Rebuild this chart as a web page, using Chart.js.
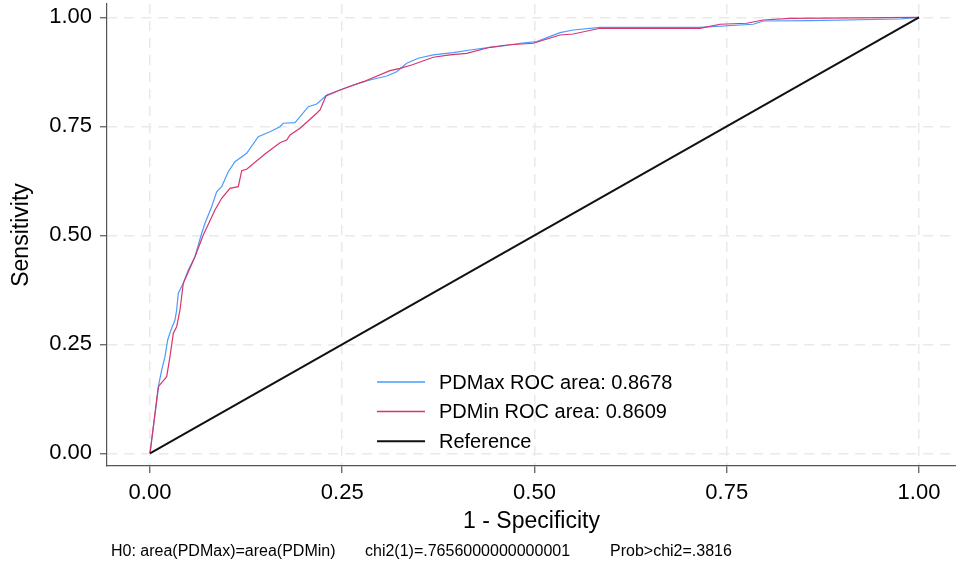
<!DOCTYPE html>
<html>
<head>
<meta charset="utf-8">
<script src="https://cdn.jsdelivr.net/npm/chart.js@4"></script>
<style>
  body { margin: 0; background: #fff; }
</style>
</head>
<body>
<canvas id="chart" width="956" height="563"></canvas>
<script>
// ROC curve points (1 - specificity, sensitivity)
const pdMaxFpr = [0, 0.0117, 0.0152, 0.0195, 0.0230, 0.0273, 0.0325, 0.0347, 0.0368, 0.0433, 0.0498, 0.0585, 0.0672, 0.0715, 0.0802, 0.0867, 0.0932, 0.1018, 0.1105, 0.1257, 0.1408, 0.1560, 0.1690, 0.1733, 0.1886, 0.2059, 0.2168, 0.2298, 0.2471, 0.2644, 0.2861, 0.3078, 0.3208, 0.3338, 0.3489, 0.3684, 0.3944, 0.4161, 0.4421, 0.4594, 0.4811, 0.5029, 0.5332, 0.5504, 0.5852, 0.6372, 0.7152, 0.7845, 0.7975, 0.8583, 0.9753, 1];
const pdMaxTpr = [0, 0.1606, 0.1911, 0.2216, 0.2599, 0.2829, 0.3058, 0.3287, 0.3671, 0.3900, 0.4205, 0.4510, 0.5047, 0.5277, 0.5657, 0.6001, 0.6116, 0.6460, 0.6690, 0.6882, 0.7263, 0.7378, 0.7493, 0.7571, 0.7584, 0.7951, 0.8013, 0.8220, 0.8335, 0.8450, 0.8564, 0.8656, 0.8754, 0.8947, 0.9062, 0.9138, 0.9190, 0.9252, 0.9314, 0.9344, 0.9406, 0.9443, 0.9649, 0.9711, 0.9773, 0.9773, 0.9773, 0.9842, 0.9917, 0.9924, 0.9963, 1];

const pdMinFpr = [0, 0.0108, 0.0217, 0.0260, 0.0303, 0.0347, 0.0390, 0.0433, 0.0585, 0.0693, 0.0845, 0.0932, 0.1040, 0.1148, 0.1193, 0.1257, 0.1495, 0.1690, 0.1778, 0.1821, 0.1951, 0.2168, 0.2211, 0.2289, 0.2471, 0.2774, 0.3121, 0.3251, 0.3403, 0.3684, 0.3901, 0.4118, 0.4421, 0.4638, 0.4985, 0.5332, 0.5504, 0.5852, 0.6372, 0.7152, 0.7412, 0.7759, 0.7975, 0.8322, 1];
const pdMinTpr = [0, 0.1528, 0.1757, 0.2216, 0.2753, 0.2904, 0.3287, 0.3900, 0.4510, 0.5008, 0.5582, 0.5850, 0.6079, 0.6116, 0.6483, 0.6515, 0.6866, 0.7126, 0.7188, 0.7302, 0.7456, 0.7800, 0.7876, 0.8197, 0.8335, 0.8525, 0.8777, 0.8832, 0.8908, 0.9085, 0.9138, 0.9176, 0.9314, 0.9367, 0.9406, 0.9596, 0.9619, 0.9750, 0.9750, 0.9750, 0.9842, 0.9865, 0.9940, 0.9979, 1];

const refFpr = [0, 1];
const refTpr = [0, 1];

const seriesLabels = ["PDMax ROC area: 0.8678", "PDMin ROC area: 0.8609", "Reference"];
const tickValues = [0, 0.25, 0.5, 0.75, 1];
const noteParts = ["H0: area(PDMax)=area(PDMin)", "chi2(1)=.7656000000000001", "Prob>chi2=.3816"];

const FONT = "'Liberation Sans', Arial, sans-serif";

// zip two arrays into {x, y} points
const toPoints = (xs, ys) => xs.map((x, i) => ({ x: x, y: ys[i] }));

// legend drawn inside the plot, lower middle
const insideLegend = {
  id: "insideLegend",
  afterDatasetsDraw(chart) {
    const ctx = chart.ctx;
    const area = chart.chartArea;
    const x0 = area.left + 270;
    const y0 = area.bottom - 84;
    ctx.save();
    ctx.font = "20px " + FONT;
    ctx.textBaseline = "middle";
    chart.data.datasets.forEach((ds, i) => {
      const y = y0 + i * 29.6;
      ctx.strokeStyle = ds.borderColor;
      ctx.lineWidth = ds.legendWidth;
      ctx.beginPath();
      ctx.moveTo(x0, y);
      ctx.lineTo(x0 + 48, y);
      ctx.stroke();
      ctx.fillStyle = "#000";
      ctx.fillText(ds.label, x0 + 62, y + 1);
    });
    ctx.restore();
  },
};

// test note under the x axis title
const bottomNote = {
  id: "bottomNote",
  afterDraw(chart) {
    const ctx = chart.ctx;
    const xs = [111, 365, 610];
    ctx.save();
    ctx.font = "16px " + FONT;
    ctx.fillStyle = "#000";
    ctx.textBaseline = "alphabetic";
    noteParts.forEach((t, i) => ctx.fillText(t, xs[i], 556));
    ctx.restore();
  },
};

const axisColor = "#555555";
const gridColor = "#e9e9e9";

const ctx = document.getElementById("chart").getContext("2d");
new Chart(ctx, {
  type: "line",
  data: {
    datasets: [
      {
        label: seriesLabels[0],
        data: toPoints(pdMaxFpr, pdMaxTpr),
        borderColor: "#4a9bff",
        borderWidth: 1.2,
        legendWidth: 1.5,
        order: 3,
      },
      {
        label: seriesLabels[1],
        data: toPoints(pdMinFpr, pdMinTpr),
        borderColor: "#d9346c",
        borderWidth: 1.2,
        legendWidth: 1.5,
        order: 2,
      },
      {
        label: seriesLabels[2],
        data: toPoints(refFpr, refTpr),
        borderColor: "#111111",
        borderWidth: 2,
        legendWidth: 2,
        order: 1,
      },
    ],
  },
  options: {
    responsive: false,
    animation: false,
    events: [],
    layout: { padding: { top: 4, right: 0, bottom: 28, left: 0 } },
    elements: {
      point: { radius: 0 },
      line: { tension: 0, fill: false },
    },
    plugins: {
      legend: { display: false },
      tooltip: { enabled: false },
    },
    scales: {
      x: {
        type: "linear",
        min: -0.0559,
        max: 1.0481,
        afterBuildTicks: (s) => { s.ticks = tickValues.map((v) => ({ value: v })); },
        afterFit: (s) => {
          s.height = 69;
          s.paddingLeft = 0;
          s.paddingRight = 0;
        },
        ticks: {
          callback: (v) => v.toFixed(2),
          font: { size: 22, family: FONT },
          color: "#000",
          padding: 7,
          maxRotation: 0,
        },
        grid: { color: gridColor, lineWidth: 1.5, tickLength: 7, tickColor: axisColor, tickWidth: 1.2 },
        border: { display: true, color: axisColor, width: 1.2, dash: [10, 7] },
        title: {
          display: true,
          text: "1 - Specificity",
          font: { size: 23, family: FONT },
          color: "#000",
          padding: { top: 0, bottom: 0 },
        },
      },
      y: {
        type: "linear",
        min: -0.0291,
        max: 1.0307,
        afterBuildTicks: (s) => { s.ticks = tickValues.map((v) => ({ value: v })); },
        afterFit: (s) => {
          s.width = 107;
          s.paddingTop = 0;
          s.paddingBottom = 0;
        },
        ticks: {
          callback: (v) => v.toFixed(2),
          font: { size: 22, family: FONT },
          color: "#000",
          padding: 8,
        },
        grid: { color: gridColor, lineWidth: 1.5, tickLength: 7, tickColor: axisColor, tickWidth: 1.2 },
        border: { display: true, color: axisColor, width: 1.2, dash: [10, 7] },
        title: {
          display: true,
          text: "Sensitivity",
          font: { size: 23, family: FONT },
          color: "#000",
          padding: { top: 8, bottom: 0 },
        },
      },
    },
  },
  plugins: [insideLegend, bottomNote],
});
</script>
</body>
</html>
